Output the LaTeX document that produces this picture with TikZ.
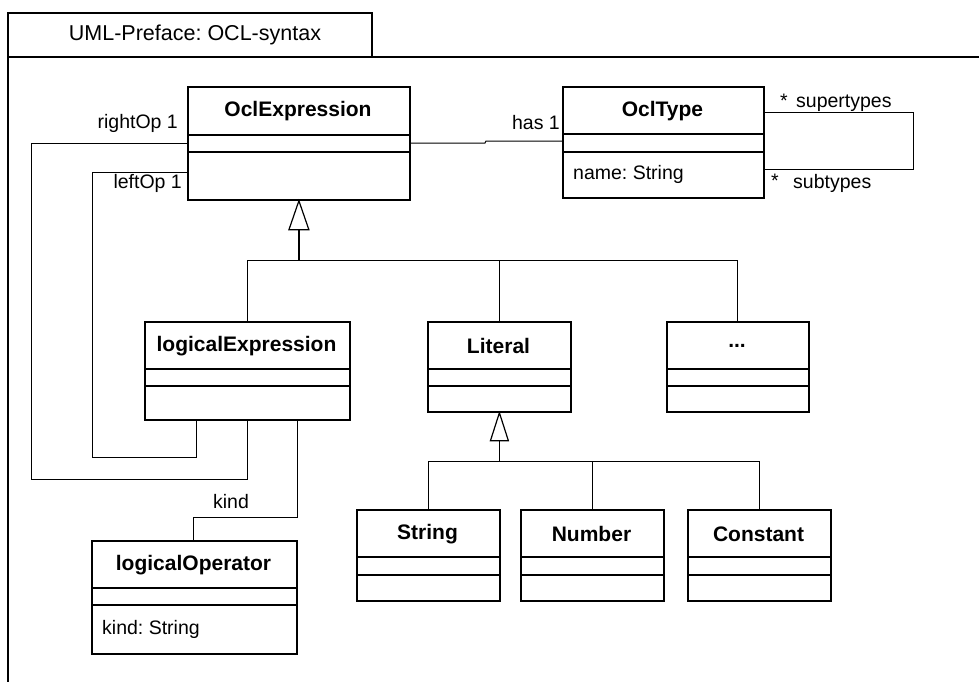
\documentclass[tikz,border=0pt]{standalone}
\usepackage{fontspec}
\setmainfont{Liberation Sans}
\usetikzlibrary{calc}
\frenchspacing
\tikzset{
 clsbox/.style={draw, line width=1.8pt, inner sep=0pt, fill=white},
 sepline/.style={line width=1.2pt},
 conn/.style={line width=1pt},
 stem/.style={line width=1.8pt},
 frameline/.style={line width=2pt},
 clsname/.style={font=\fontsize{21}{25}\selectfont\bfseries, inner sep=0pt},
 lbl/.style={font=\fontsize{19.5}{23}\selectfont, inner sep=0pt},
 titlelbl/.style={font=\fontsize{21.5}{25}\selectfont, inner sep=0pt},
 gentri/.style={line width=1.2pt, fill=white, line join=miter},
}
\newcommand\umlcls[9]{%
 \node[clsbox, anchor=north west, minimum width={#4pt-#2pt}, minimum height={#7pt-#3pt}] (#1) at (#2,#3) {};
 \draw[sepline] (#1.west |- 0,#5) -- (#1.east |- 0,#5);
 \draw[sepline] (#1.west |- 0,#6) -- (#1.east |- 0,#6);
 \node[clsname] (#1-name) at ({(#2+#4)/2},{(#3+#5)/2+1}) {#8};
 \node[lbl, anchor=west] (#1-attr) at ({#2+11},{(#6+#7)/2}) {#9};
}
\begin{document}
\begin{tikzpicture}[x=1pt, y=-1pt]
\useasboundingbox[fill=white] (0,0) rectangle (979,682);
% frame
\draw[frameline] (8,682) -- (8,13) -- (372,13) -- (372,57);
\draw[frameline] (8,57) -- (979,57);
\node[titlelbl] (title) at (195,35) {UML-Preface: OCL-syntax};

% classes
\umlcls{oe}{187}{86}{409}{135}{152}{199}{OclExpression}{}
\umlcls{ot}{562}{86}{763}{134}{152}{197}{OclType}{name: String}
\umlcls{le}{144}{321}{349}{369}{386}{419}{logicalExpression}{}
\umlcls{lit}{427}{321}{570}{369}{386}{411}{Literal}{}
\umlcls{dots}{666}{321}{808}{369}{386}{411}{...}{}
\umlcls{lo}{91}{540}{296}{588}{605}{653}{logicalOperator}{kind: String}
\umlcls{str}{356}{509}{499}{557}{575}{600}{String}{}
\umlcls{num}{520}{509}{663}{557}{575}{600}{Number}{}
\umlcls{con}{687}{509}{830}{557}{575}{600}{Constant}{}

% associations
\draw[conn] (oe.west |- 0,143) -| (31,479) -| (le.south -| 247,0);
\draw[conn] (oe.west |- 0,172) -| (92,457) -| (le.south -| 196,0);
\draw[conn] (le.south -| 297,0) |- (193,517) -- (lo.north -| 193,0);
\draw[conn] (oe.east |- 0,143) -- (485,143) -- (486,141) -- (ot.west |- 0,141);
\draw[conn] (ot.east |- 0,113) -| (913,169) -- (ot.east |- 0,169);

\node[lbl, anchor=east] (l-right) at (178,123) {rightOp 1};
\node[lbl, anchor=east] (l-left) at (182,183) {leftOp 1};
\node[lbl, anchor=east] (l-has) at (560,123) {has 1};
\node[lbl, anchor=west] (l-st1) at (780,101) {*};
\node[lbl, anchor=west] (l-sup) at (796,103) {supertypes};
\node[lbl, anchor=west] (l-st2) at (771,181) {*};
\node[lbl, anchor=west] (l-sub) at (793,183) {subtypes};
\node[lbl] (l-kind) at (231,502) {kind};

% generalization 1
\draw[conn] (le.north) |- (dots.north |- 0,260) -- (dots.north);
\draw[conn] (lit.north) -- (lit.north |- 0,260);
\draw[stem] ($(oe.south)+(0,29)$) -- (oe.south |- 0,260);
\draw[gentri] (oe.south) -- ++(-10,29) -- ++(20,0) -- cycle;

% generalization 2
\draw[conn] (str.north) |- (con.north |- 0,461) -- (con.north);
\draw[conn] (num.north) -- (num.north |- 0,461);
\draw[stem] ($(lit.south)+(0,28)$) -- (lit.south |- 0,461);
\draw[gentri] (lit.south) -- ++(-9,28) -- ++(18,0) -- cycle;
\end{tikzpicture}
\end{document}
